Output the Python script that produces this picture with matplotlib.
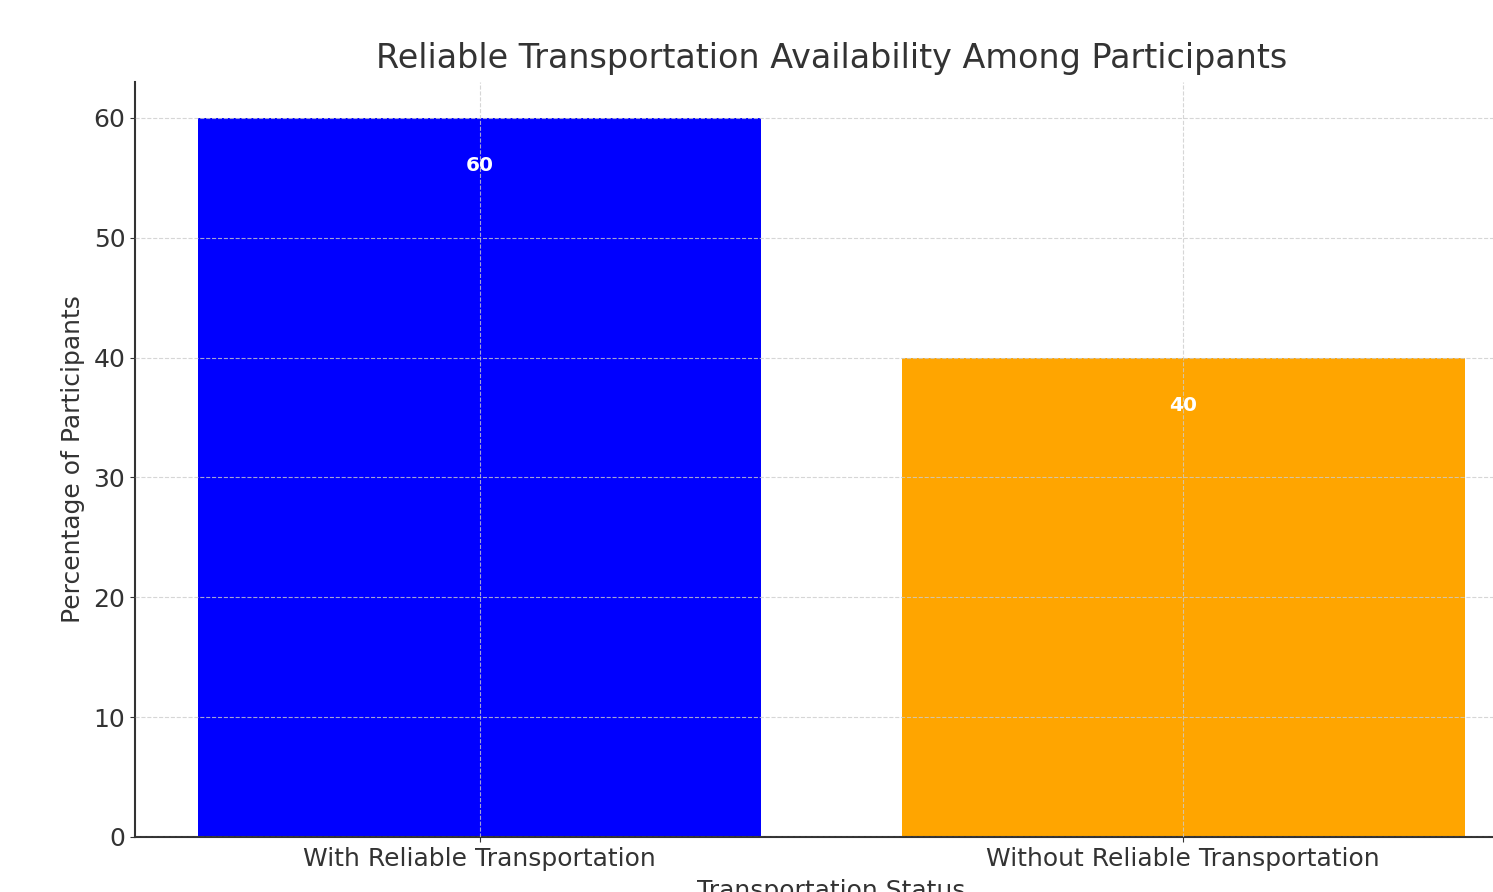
import matplotlib.pyplot as plt

# transportation survey results
categories = ['With Reliable Transportation', 'Without Reliable Transportation']
percentages = [60, 40]
bar_colors = ['blue', 'orange']

plt.rcParams['text.color'] = '#333333'
plt.rcParams['axes.labelcolor'] = '#333333'
plt.rcParams['xtick.color'] = '#333333'
plt.rcParams['ytick.color'] = '#333333'

fig = plt.figure(figsize=(14.93, 8.92), dpi=100)
W, H = 1493, 892
ax = fig.add_axes([135 / W, 55 / H, (1528 - 135) / W, (837 - 82) / H])

bars = ax.bar(categories, percentages, color=bar_colors, width=0.8, zorder=2)
ax.set_xlim(-0.49, 1.49)
ax.set_ylim(0, 63)

for bar, val in zip(bars, percentages):
    ax.text(bar.get_x() + bar.get_width() / 2, val - 4, str(val),
            ha='center', va='center', color='white', fontweight='bold',
            fontsize=14.5, zorder=3)

ax.set_title('Reliable Transportation Availability Among Participants',
             fontsize=24, pad=10)
ax.set_xlabel('Transportation Status', fontsize=18, labelpad=6)
ax.set_ylabel('Percentage of Participants', fontsize=18, labelpad=6)
ax.tick_params(labelsize=18)
ax.grid(True, linestyle='--', color='#cccccc', linewidth=0.8, alpha=0.8, zorder=3)
ax.set_axisbelow(False)

for side in ['top', 'right']:
    ax.spines[side].set_visible(False)
for side in ['left', 'bottom']:
    ax.spines[side].set_color('#333333')
    ax.spines[side].set_linewidth(1.5)

fig.savefig('out.png', dpi=100)
